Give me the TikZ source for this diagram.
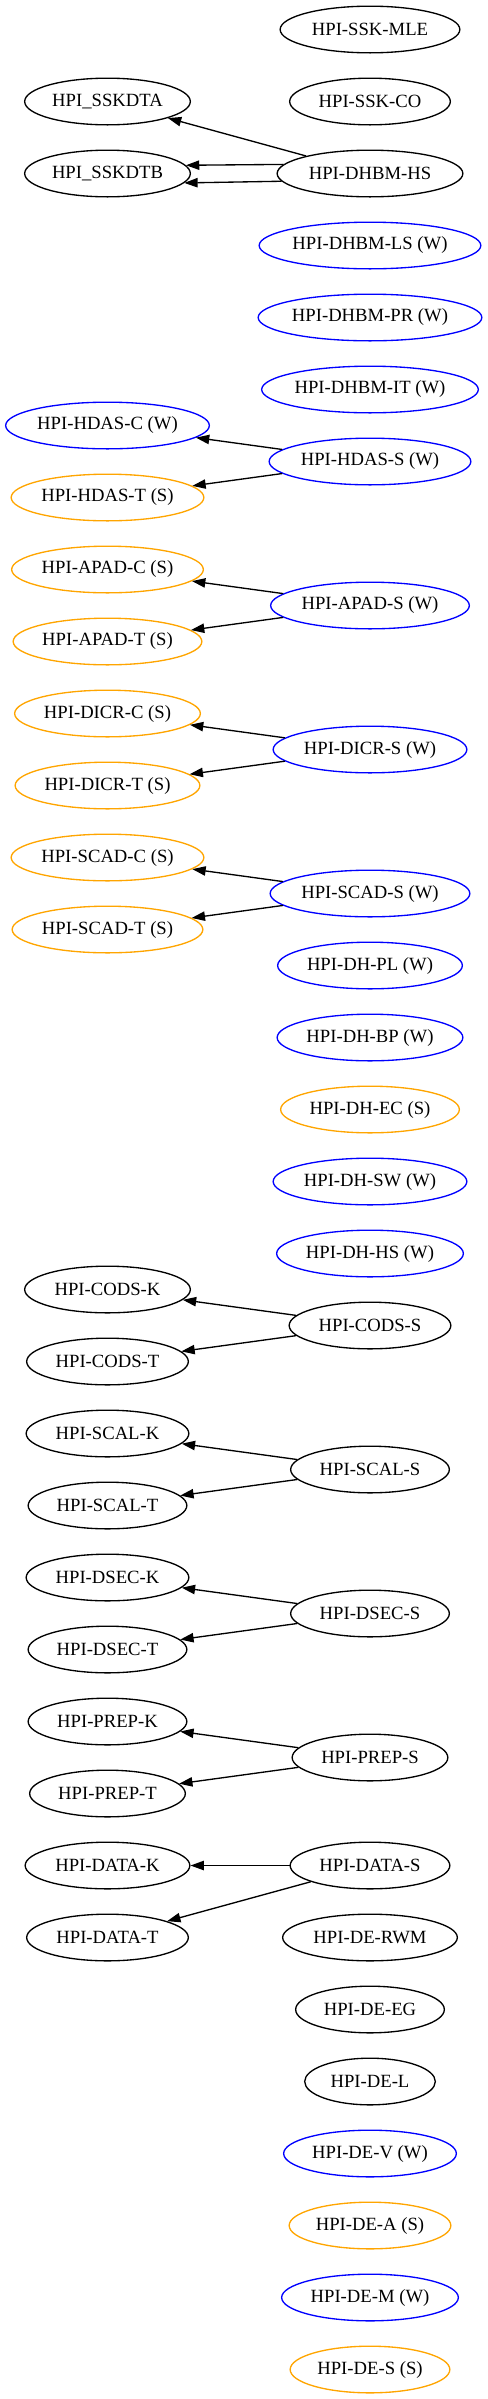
\documentclass[tikz,border=0pt]{standalone}
\usepackage{fontspec}
\setmainfont{Liberation Serif}
\usetikzlibrary{shapes.geometric,arrows.meta}
\definecolor{gvblue}{RGB}{0,0,255}
\definecolor{gvorange}{RGB}{255,165,0}
\tikzset{
  gv/.style={ellipse, draw=black, line width=1pt, inner sep=0pt,
    minimum height=35pt, font=\fontsize{14pt}{16pt}\selectfont, text=black},
  wd/.style={minimum width=#1*0.75pt-1pt},
  bl/.style={draw=gvblue},
  og/.style={draw=gvorange},
  ed/.style={-{Triangle[length=10pt,width=7pt]}, line width=1pt, draw=black}
}
\begin{document}
\begin{tikzpicture}[x=0.75pt,y=-0.75pt]
\useasboundingbox (0,0) rectangle (487,2399);
% top block
\node[gv,wd=181] (sskmle) at (370,29.5) {HPI-SSK-MLE};
\node[gv,wd=167] (sskdta) at (107.5,101.5) {HPI\_SSKDTA};
\node[gv,wd=162] (sskco) at (370,101.5) {HPI-SSK-CO};
\node[gv,wd=167] (sskdtb) at (107.5,173.5) {HPI\_SSKDTB};
\node[gv,wd=187] (dhbmhs) at (370,173.5) {HPI-DHBM-HS};
\node[gv,bl,wd=223] (dhbmls) at (370,245.5) {HPI-DHBM-LS (W)};
\node[gv,bl,wd=225] (dhbmpr) at (370,317.5) {HPI-DHBM-PR (W)};
\node[gv,bl,wd=218] (dhbmit) at (370,389.5) {HPI-DHBM-IT (W)};
% HDAS
\node[gv,bl,wd=205] (hdasc) at (107.5,425.5) {HPI-HDAS-C (W)};
\node[gv,bl,wd=203] (hdass) at (370,461.5) {HPI-HDAS-S (W)};
\node[gv,og,wd=194] (hdast) at (107.5,497.5) {HPI-HDAS-T (S)};
% APAD
\node[gv,og,wd=193] (apadc) at (107.5,569.5) {HPI-APAD-C (S)};
\node[gv,bl,wd=200] (apads) at (370,605.5) {HPI-APAD-S (W)};
\node[gv,og,wd=190] (apadt) at (107.5,641.5) {HPI-APAD-T (S)};
% DICR
\node[gv,og,wd=187] (dicrc) at (107.5,713.5) {HPI-DICR-C (S)};
\node[gv,bl,wd=195] (dicrs) at (370,749.5) {HPI-DICR-S (W)};
\node[gv,og,wd=186] (dicrt) at (107.5,785.5) {HPI-DICR-T (S)};
% SCAD
\node[gv,og,wd=194] (scadc) at (107.5,857.5) {HPI-SCAD-C (S)};
\node[gv,bl,wd=201] (scads) at (370,893.5) {HPI-SCAD-S (W)};
\node[gv,og,wd=192] (scadt) at (107.5,929.5) {HPI-SCAD-T (S)};
% DH
\node[gv,bl,wd=186] (dhpl) at (370,965.5) {HPI-DH-PL (W)};
\node[gv,bl,wd=187] (dhbp) at (370,1037.5) {HPI-DH-BP (W)};
\node[gv,og,wd=180] (dhec) at (370,1109.5) {HPI-DH-EC (S)};
\node[gv,bl,wd=195] (dhsw) at (370,1181.5) {HPI-DH-SW (W)};
\node[gv,bl,wd=188] (dhhs) at (370,1253.5) {HPI-DH-HS (W)};
% CODS
\node[gv,wd=167] (codsk) at (107.5,1289.5) {HPI-CODS-K};
\node[gv,wd=163] (codss) at (370,1325.5) {HPI-CODS-S};
\node[gv,wd=163] (codst) at (107.5,1361.5) {HPI-CODS-T};
% SCAL
\node[gv,wd=164] (scalk) at (107.5,1433.5) {HPI-SCAL-K};
\node[gv,wd=160] (scals) at (370,1469.5) {HPI-SCAL-S};
\node[gv,wd=160] (scalt) at (107.5,1505.5) {HPI-SCAL-T};
% DSEC
\node[gv,wd=164] (dseck) at (107.5,1577.5) {HPI-DSEC-K};
\node[gv,wd=160] (dsecs) at (370,1613.5) {HPI-DSEC-S};
\node[gv,wd=160] (dsect) at (107.5,1649.5) {HPI-DSEC-T};
% PREP
\node[gv,wd=160] (prepk) at (107.5,1721.5) {HPI-PREP-K};
\node[gv,wd=157] (preps) at (370,1757.5) {HPI-PREP-S};
\node[gv,wd=157] (prept) at (107.5,1793.5) {HPI-PREP-T};
% DATA
\node[gv,wd=166] (datak) at (107.5,1865.5) {HPI-DATA-K};
\node[gv,wd=161] (datas) at (370,1865.5) {HPI-DATA-S};
\node[gv,wd=163] (datat) at (107.5,1937.5) {HPI-DATA-T};
% DE
\node[gv,wd=176] (derwm) at (370,1937.5) {HPI-DE-RWM};
\node[gv,wd=150] (deeg) at (370,2009.5) {HPI-DE-EG};
\node[gv,wd=132] (del) at (370,2081.5) {HPI-DE-L};
\node[gv,bl,wd=174] (dev) at (370,2153.5) {HPI-DE-V (W)};
\node[gv,og,wd=163] (dea) at (370,2225.5) {HPI-DE-A (S)};
\node[gv,bl,wd=178] (dem) at (370,2297.5) {HPI-DE-M (W)};
\node[gv,og,wd=161] (des) at (370,2369.5) {HPI-DE-S (S)};
% edges
\draw[ed] (dhbmhs) -- (sskdta);
\draw[ed] (dhbmhs.174.4) -- (sskdtb.6.2);
\draw[ed] (dhbmhs.185.6) -- (sskdtb.353.8);
\draw[ed] (hdass) -- (hdasc);
\draw[ed] (hdass) -- (hdast);
\draw[ed] (apads) -- (apadc);
\draw[ed] (apads) -- (apadt);
\draw[ed] (dicrs) -- (dicrc);
\draw[ed] (dicrs) -- (dicrt);
\draw[ed] (scads) -- (scadc);
\draw[ed] (scads) -- (scadt);
\draw[ed] (codss) -- (codsk);
\draw[ed] (codss) -- (codst);
\draw[ed] (scals) -- (scalk);
\draw[ed] (scals) -- (scalt);
\draw[ed] (dsecs) -- (dseck);
\draw[ed] (dsecs) -- (dsect);
\draw[ed] (preps) -- (prepk);
\draw[ed] (preps) -- (prept);
\draw[ed] (datas) -- (datak);
\draw[ed] (datas) -- (datat);
\end{tikzpicture}
\end{document}
